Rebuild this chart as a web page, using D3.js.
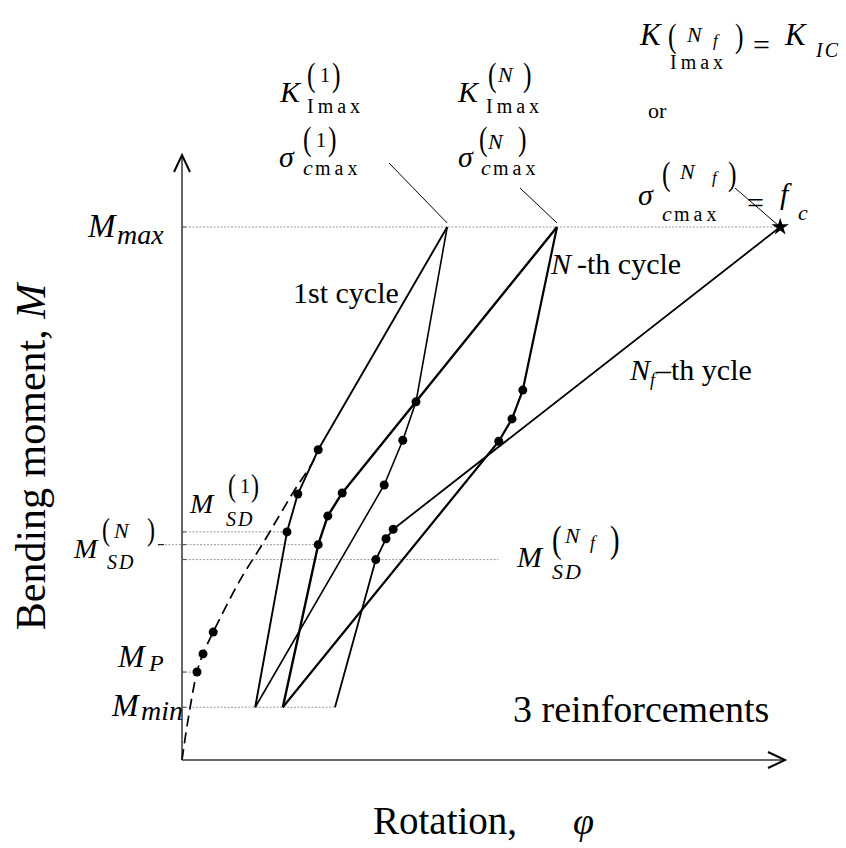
<!DOCTYPE html>
<html><head><meta charset="utf-8">
<script src="https://cdn.jsdelivr.net/npm/d3@7"></script>
<style>body{margin:0;background:#fff}</style>
</head><body>
<svg id="c" width="846" height="848"></svg>
<script>
// ---------- data (rotation phi in %, moment M as fraction of Mmax) ----------
const envelope   = [[0,0],[1.0,0.075],[2.5,0.165],[3.5,0.199],[5.2,0.240],[9.7,0.338],[13.3,0.403],[16.3,0.460],[18.8,0.507],[21.8,0.559],[22.7,0.582]];
const envelopeDots = [[2.5,0.165],[3.5,0.199],[5.2,0.240]];
const firstLoad   = [[12.2,0.099],[17.5,0.428],[19.3,0.499],[22.7,0.582],[44.2,1.0]];
const firstUnload = [[44.2,1.0],[39.0,0.672],[36.8,0.600],[33.7,0.516],[12.2,0.099]];
const nthLoad     = [[16.8,0.099],[22.7,0.404],[24.3,0.458],[26.7,0.501],[62.5,1.0]];
const nthUnload   = [[62.5,1.0],[56.8,0.694],[55.0,0.640],[52.8,0.598],[16.8,0.099]];
const nfLoad      = [[25.5,0.099],[32.3,0.376],[34.0,0.415],[35.2,0.433],[99.7,1.0]];
const failurePoint = [99.7,1.0];
const levelValues = [1.0, 0.428, 0.404, 0.376, 0.165, 0.099];
const levelStarts = [0, 0, -4, 0, 0, 0];
const levelEnds   = [99.7, 17.5, 22.7, 52.7, 2.5, 25.5];

const FONT = "'Liberation Serif','Times New Roman',serif";
const svg = d3.select("#c");
const x = d3.scaleLinear().domain([0,100]).range([182,782]);
const y = d3.scaleLinear().domain([0,1]).range([760,227]);
const line = d3.line().x(d=>x(d[0])).y(d=>y(d[1]));

// reference levels (dotted)
levelValues.forEach((v,i)=>{
  svg.append("line").attr("x1",x(levelStarts[i])).attr("x2",x(levelEnds[i]))
    .attr("y1",y(v)).attr("y2",y(v))
    .attr("stroke","#9a9a9a").attr("stroke-width",1).attr("stroke-dasharray","2,1.5");
  svg.append("line").attr("x1",x(0)).attr("x2",x(0)+4).attr("y1",y(v)).attr("y2",y(v))
    .attr("stroke","#444").attr("stroke-width",1);
});
svg.append("line").attr("x1",x(-4)).attr("x2",x(-3)).attr("y1",y(levelValues[2])).attr("y2",y(levelValues[2]))
  .attr("stroke","#000").attr("stroke-width",1);

// axes
svg.append("line").attr("x1",x(0)).attr("y1",y(0)).attr("x2",x(0)).attr("y2",y(1.135))
  .attr("stroke","#666").attr("stroke-width",2);
svg.append("line").attr("x1",x(0)).attr("y1",y(0)).attr("x2",x(100.5)).attr("y2",y(0))
  .attr("stroke","#666").attr("stroke-width",2);
svg.append("path").attr("d",`M${x(0)-8},${y(1.135)+17} L${x(0)},${y(1.135)} L${x(0)+8},${y(1.135)+17}`)
  .attr("fill","none").attr("stroke","#000").attr("stroke-width",2);
svg.append("path").attr("d",`M${x(100.5)-17},${y(0)-8} L${x(100.5)},${y(0)} L${x(100.5)-17},${y(0)+8}`)
  .attr("fill","none").attr("stroke","#000").attr("stroke-width",2);

// envelope (dashed)
svg.append("path").attr("d",d3.line().x(d=>x(d[0])).y(d=>y(d[1])).curve(d3.curveCatmullRom)(envelope))
  .attr("fill","none").attr("stroke","#000").attr("stroke-width",1.7).attr("stroke-dasharray","11,6");

// paths
const paths = [[firstLoad,1.9],[firstUnload,1.6],[nthLoad,2.4],[nthUnload,2.2],[nfLoad,1.8]];
paths.forEach(([p,w])=>{
  svg.append("path").attr("d",line(p)).attr("fill","none").attr("stroke","#000")
    .attr("stroke-width",w).attr("stroke-linejoin","round");
});

// dots
const dots = envelopeDots.concat(...[firstLoad,firstUnload,nthLoad,nthUnload,nfLoad].map(p=>p.slice(1,4)));
svg.selectAll("circle.d").data(dots).enter().append("circle")
  .attr("cx",d=>x(d[0])).attr("cy",d=>y(d[1])).attr("r",4.5).attr("fill","#000");

// star
svg.append("path").attr("d",d3.symbol(d3.symbolStar).size(95)())
  .attr("transform",`translate(${x(failurePoint[0])},${y(failurePoint[1])})`).attr("fill","#000");

// pointer lines
[[389,163,x(firstLoad[4][0]),y(1.0)-4],[520,188,x(nthLoad[4][0]),y(1.0)-4],[735,188,x(failurePoint[0]),y(1.0)]]
 .forEach(l=>svg.append("line").attr("x1",l[0]).attr("y1",l[1]).attr("x2",l[2]).attr("y2",l[3])
   .attr("stroke","#000").attr("stroke-width",1));

// text helper
function t(px,py,str,size,opt={}){
  const e = svg.append("text").attr("x",px).attr("y",py).text(str)
    .attr("font-family",FONT).attr("font-size",size).attr("fill","#000");
  if(opt.i) e.attr("font-style","italic");
  if(opt.ls) e.attr("letter-spacing",opt.ls);
  if(opt.a) e.attr("text-anchor",opt.a);
  return e;
}
function paren(px,py,size,str){
  return t(px,py,str,size).attr("transform",`translate(${px},${py}) scale(0.8,1.05) translate(${-px},${-py})`);
}

// axis titles
const yt = svg.append("text").attr("transform","translate(45,457) rotate(-90)")
  .attr("text-anchor","middle").attr("font-family",FONT).attr("font-size",42);
yt.append("tspan").text("Bending moment, ");
yt.append("tspan").attr("font-style","italic").text("M");
t(373,834,"Rotation,",39);
t(573,834,"φ",38,{i:1});
t(513,722,"3 reinforcements",38);

// level labels
t(88,237,"M",33,{i:1}); t(117,244,"max",28,{i:1});
t(118,667,"M",32,{i:1}); t(149,671,"P",24,{i:1});
t(112,716,"M",32,{i:1}); t(141,720,"min",28,{i:1});

// cycle labels
t(293,303,"1st cycle",30);
t(551,274,"N",30,{i:1}); t(577,274,"-th cycle",30);
t(630,380,"N",30,{i:1}); t(650,386,"f",18,{i:1}); t(656,380,"–th ycle",30);

// K(1)Imax / sigma(1)cmax
t(280,102,"K",30,{i:1}); paren(307,86,32,"("); t(320,82,"1",20); paren(332,86,32,")");
t(307,113,"Imax",20,{ls:4});
t(279,167,"σ",30,{i:1}); paren(303,150,32,"("); t(316,147,"1",20); paren(328,150,32,")");
t(303,175,"c",22,{i:1}); t(315,175,"max",20,{ls:4});

t(458,102,"K",30,{i:1}); paren(488,86,32,"("); t(498,82,"N",22,{i:1}); paren(523,86,32,")");
t(486,113,"Imax",20,{ls:4});
t(458,167,"σ",30,{i:1}); paren(479,150,32,"("); t(488,149,"N",22,{i:1}); paren(518,150,32,")");
t(481,175,"c",22,{i:1}); t(493,175,"max",20,{ls:4});

// top right
t(640,45,"K",31,{i:1}); paren(668,47,32,"("); t(687,42,"N",22,{i:1}); t(713,46,"f",17,{i:1}); paren(735,47,32,")");
t(670,69,"Imax",20,{ls:4});
t(753,55,"=",30); t(785,45,"K",31,{i:1}); t(816,57,"IC",20,{i:1,ls:2});
t(648,118,"or",22);
t(638,205,"σ",30,{i:1}); paren(662,185,32,"("); t(680,179,"N",22,{i:1}); t(712,183,"f",17,{i:1}); paren(728,185,32,")");
t(662,221,"c",22,{i:1}); t(674,221,"max",20,{ls:4});
t(747,213,"=",30); t(780,204,"f",30,{i:1}); t(798,220,"c",22,{i:1});

// M_SD labels
t(190,513,"M",28,{i:1}); paren(228,496,30,"("); t(240,493,"1",20); paren(251,496,30,")");
t(226,526,"SD",20,{i:1,ls:2});
t(74,558,"M",28,{i:1}); paren(102,540,30,"("); t(114,538,"N",22,{i:1}); paren(147,540,30,")");
t(107,569,"SD",20,{i:1,ls:2});
t(517,567,"M",30,{i:1}); paren(552,552,36,"("); t(565,543,"N",22,{i:1}); t(590,549,"f",18,{i:1}); paren(610,552,36,")");
t(552,579,"SD",22,{i:1,ls:2});
</script>
</body></html>
